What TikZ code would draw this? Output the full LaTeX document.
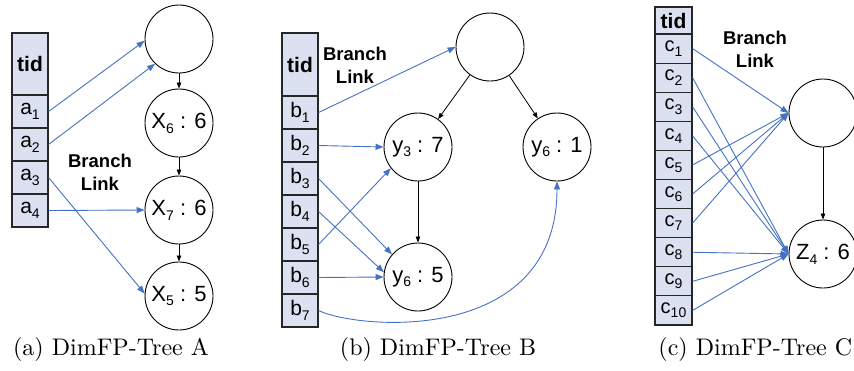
\documentclass[tikz,border=0pt]{standalone}
\usepackage{fontspec}
\newfontfamily\sansf{Liberation Sans}
\usetikzlibrary{arrows.meta}
\definecolor{linkblue}{RGB}{68,114,196}
\definecolor{cellfill}{RGB}{219,225,241}
\newcommand\sbx[1]{\raisebox{-0.22em}{\fontsize{14}{14}\selectfont #1}}
\tikzset{
  cell/.style={draw=black!85, line width=1.1pt, fill=cellfill, minimum width=36pt,
    minimum height=33pt, inner sep=0pt, font=\sansf\fontsize{21}{21}\selectfont},
  tidcell/.style={cell, font=\sansf\bfseries\fontsize{21}{21}\selectfont},
  ccell/.style={cell, minimum width=37pt, minimum height=29.1pt, font=\sansf\fontsize{20}{20}\selectfont},
  circ/.style={circle, draw=black, line width=0.9pt, minimum size=68pt, inner sep=0pt,
    font=\sansf\fontsize{22}{22}\selectfont},
  brlabel/.style={align=center, font=\sansf\bfseries\fontsize{18.5}{23}\selectfont, inner sep=0pt},
  caplabel/.style={scale=2.4, font=\fontsize{10}{12}\selectfont, inner sep=0pt},
  bl/.style={draw=linkblue, line width=0.9pt, -{Triangle[length=8pt,width=6pt,fill=linkblue]}},
  bk/.style={draw=black, line width=0.8pt, -{Triangle[length=6pt,width=4.5pt]}},
}
\begin{document}
\begin{tikzpicture}[x=1pt,y=-1pt]
\useasboundingbox (0,0) rectangle (854,370);
% ---------- Panel A ----------
\node[tidcell, minimum height=62pt] (tA) at (30,64) {tid};
\node[cell] (a1) at (30,111.5) {a\sbx{1}};
\node[cell] (a2) at (30,144.5) {a\sbx{2}};
\node[cell] (a3) at (30,177.5) {a\sbx{3}};
\node[cell] (a4) at (30,210.5) {a\sbx{4}};
\node[circ] (rA) at (179,39) {};
\node[circ] (x6) at (179,123) {X\sbx{6} : 6};
\node[circ] (x7) at (179,210) {X\sbx{7} : 6};
\node[circ] (x5) at (179,296) {X\sbx{5} : 5};
\draw[bk] (rA) -- (x6);
\draw[bk] (x6) -- (x7);
\draw[bk] (x7) -- (x5);
\draw[bl] (a1.east) -- (rA.183);
\draw[bl] (a2.east) -- (rA.226);
\draw[bl] (a3.east) -- (x5.176);
\draw[bl] (a4.east) -- (x7.west);
\node[brlabel] (brA) at (100,172) {Branch\\Link};
\node[caplabel] (capA) at (111,349) {(a) DimFP-Tree A};
% ---------- Panel B ----------
\node[tidcell, minimum height=63pt] (tB) at (300,64.5) {tid};
\node[cell] (b1) at (300,112.5) {b\sbx{1}};
\node[cell] (b2) at (300,145.5) {b\sbx{2}};
\node[cell] (b3) at (300,178.5) {b\sbx{3}};
\node[cell] (b4) at (300,211.5) {b\sbx{4}};
\node[cell] (b5) at (300,244.5) {b\sbx{5}};
\node[cell] (b6) at (300,277.5) {b\sbx{6}};
\node[cell] (b7) at (300,310.5) {b\sbx{7}};
\node[circ] (rB) at (490,47) {};
\node[circ] (y3) at (418,147) {y\sbx{3} : 7};
\node[circ] (y61) at (557,147) {y\sbx{6} : 1};
\node[circ] (y65) at (418,277) {y\sbx{6} : 5};
\draw[bk] (rB) -- (y3);
\draw[bk] (rB) -- (y61);
\draw[bk] (y3) -- (y65);
\draw[bl] (b1.east) -- (rB.180);
\draw[bl] (b2.east) -- (y3.west);
\draw[bl] (b3.east) -- (y65.139);
\draw[bl] (b4.east) -- (y65.172);
\draw[bl] (b5.east) -- (y3.218);
\draw[bl] (b6.east) -- (y65.west);
\draw[bl] (b7.east) .. controls (360,330) and (557,345) .. (y61.south);
\node[brlabel] (brB) at (355,65) {Branch\\Link};
\node[caplabel] (capB) at (438,349) {(b) DimFP-Tree B};
% ---------- Panel C ----------
\node[tidcell, minimum width=37pt, minimum height=27pt] (tC) at (673.5,20.5) {tid};
\foreach \k in {1,...,10}{
  \node[ccell] (c\k) at (673.5,{34+29.1*(\k-1)+14.55}) {c\sbx{\k}};
}
\node[circ] (rC) at (823,113) {};
\node[circ] (z4) at (823,254) {Z\sbx{4} : 6};
\draw[bk] (rC) -- (z4);
\foreach \k in {1,5,6,7}{ \draw[bl] (c\k.east) -- (rC.west); }
\foreach \k in {2,3,4,8,9,10}{ \draw[bl] (c\k.east) -- (z4.west); }
\node[brlabel] (brC) at (755,49) {Branch\\Link};
\node[caplabel, anchor=west] (capC) at (658,349) {(c) DimFP-Tree C};
\end{tikzpicture}
\end{document}
